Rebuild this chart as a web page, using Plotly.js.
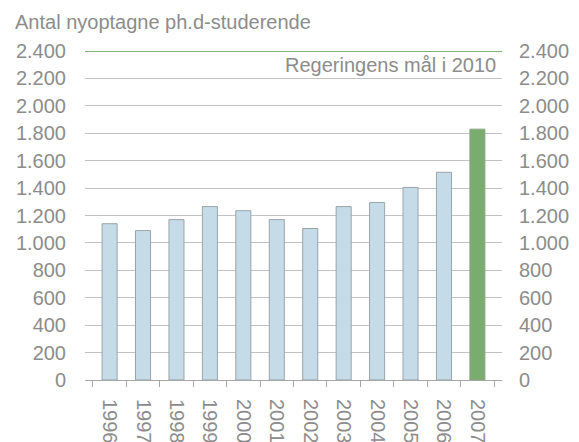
<!DOCTYPE html>
<html>
<head>
<meta charset="utf-8">
<script src="https://cdn.plot.ly/plotly-3.0.1.min.js"></script>
<style>
  html, body { margin: 0; padding: 0; background: #fff; }
  #chart { width: 579px; height: 442px; }
</style>
</head>
<body>
<div id="chart"></div>
<script>
// Data
const years = ["1996", "1997", "1998", "1999", "2000", "2001", "2002", "2003", "2004", "2005", "2006", "2007"];
const admitted = [1140, 1090, 1170, 1265, 1235, 1170, 1105, 1265, 1295, 1405, 1515, 1830];
const goal = 2400;
const goalLabel = "Regeringens mål i 2010";
const chartTitle = "Antal nyoptagne ph.d-studerende";
const yTickVals = [0, 200, 400, 600, 800, 1000, 1200, 1400, 1600, 1800, 2000, 2200, 2400];

const grey = "#8c8c8c";
const font = { family: "Liberation Sans, Arial, sans-serif", size: 20, color: grey };

const barColors = years.map((y, i) => i === years.length - 1 ? "#7aab6f" : "#c5dce8");
const lineColors = years.map((y, i) => i === years.length - 1 ? "#8aa884" : "#99a3aa");

const traces = [
  {
    type: "bar",
    x: years,
    y: admitted,
    marker: { color: barColors, line: { color: lineColors, width: 1 } },
    hoverinfo: "x+y"
  },
  {
    type: "scatter",
    mode: "markers",
    x: years,
    y: admitted,
    yaxis: "y2",
    marker: { opacity: 0 },
    hoverinfo: "skip",
    showlegend: false
  }
];

const layout = {
  width: 579,
  height: 442,
  margin: { l: 85, r: 77, t: 51, b: 62, pad: 0 },
  paper_bgcolor: "#ffffff",
  plot_bgcolor: "#ffffff",
  font: font,
  separators: ",.",
  showlegend: false,
  bargap: 0.55,
  title: {
    text: chartTitle,
    font: { family: font.family, size: 20, color: grey },
    x: 15 / 579,
    xanchor: "left",
    xref: "container",
    y: 1 - 22 / 442,
    yanchor: "middle",
    yref: "container"
  },
  xaxis: {
    type: "category",
    tickangle: 90,
    tickson: "boundaries",
    ticks: "outside",
    ticklen: 6,
    tickcolor: "#a6a6a6",
    showline: true,
    linecolor: "#a6a6a6",
    linewidth: 1,
    showgrid: false,
    tickfont: font,
    ticklabelstandoff: 14,
    fixedrange: true
  },
  yaxis: {
    range: [0, 2400],
    tickvals: yTickVals,
    tickformat: ",",
    showgrid: true,
    gridcolor: "#c3c3c3",
    gridwidth: 1,
    zeroline: false,
    showline: false,
    ticks: "",
    tickfont: font,
    ticklabelstandoff: 18,
    fixedrange: true
  },
  yaxis2: {
    range: [0, 2400],
    overlaying: "y",
    side: "right",
    tickvals: yTickVals,
    tickformat: ",",
    showgrid: false,
    zeroline: false,
    showline: false,
    ticks: "",
    tickfont: font,
    ticklabelstandoff: 16,
    fixedrange: true
  },
  shapes: [
    {
      type: "line",
      xref: "paper", x0: 0, x1: 1,
      yref: "y", y0: goal, y1: goal,
      line: { color: "#7fb074", width: 2 }
    }
  ],
  annotations: [
    {
      text: goalLabel,
      xref: "paper", x: 0.99, xanchor: "right",
      yref: "y", y: 2300, yanchor: "middle",
      showarrow: false,
      font: font
    }
  ]
};

Plotly.newPlot("chart", traces, layout, { displayModeBar: false, staticPlot: true });
</script>
</body>
</html>
